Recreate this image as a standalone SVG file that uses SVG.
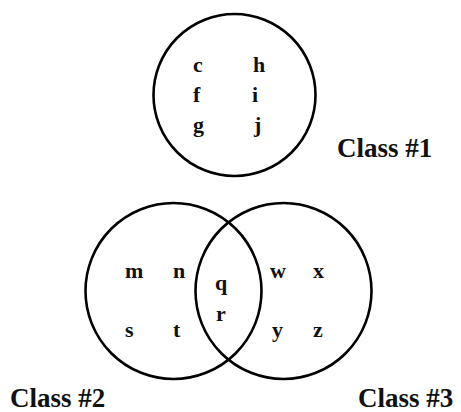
<svg xmlns="http://www.w3.org/2000/svg" width="461" height="412" viewBox="0 0 461 412">
<style>
.c{fill:none;stroke:#000;stroke-width:2.6}
.t{font-family:"Liberation Serif","Times New Roman",serif;font-weight:bold;fill:#111;font-size:22px}
.l{font-family:"Liberation Serif","Times New Roman",serif;font-weight:bold;fill:#111;font-size:27px}
</style>
<rect width="461" height="412" fill="#fff"/>
<g id="class1">
<circle class="c" cx="234.5" cy="95" r="81"/>
<text class="t" x="193" y="72">c</text>
<text class="t" x="253" y="72">h</text>
<text class="t" x="193" y="102">f</text>
<text class="t" x="252" y="102">i</text>
<text class="t" x="193" y="132">g</text>
<text class="t" x="254" y="132">j</text>
<text class="l" x="337" y="157">Class #1</text>
</g>
<g id="class2">
<circle class="c" cx="173.5" cy="291" r="88"/>
<text class="t" x="125" y="278">m</text>
<text class="t" x="173" y="278">n</text>
<text class="t" x="125" y="337">s</text>
<text class="t" x="173" y="337">t</text>
<text class="l" x="10" y="407">Class #2</text>
</g>
<g id="class3">
<circle class="c" cx="283.5" cy="291" r="88"/>
<text class="t" x="270" y="278">w</text>
<text class="t" x="313" y="278">x</text>
<text class="t" x="272" y="337">y</text>
<text class="t" x="313" y="337">z</text>
<text class="l" x="358" y="407">Class #3</text>
</g>
<g id="overlap">
<text class="t" x="215" y="290">q</text>
<text class="t" x="216" y="321">r</text>
</g>
<g id="connectors"/>
</svg>
